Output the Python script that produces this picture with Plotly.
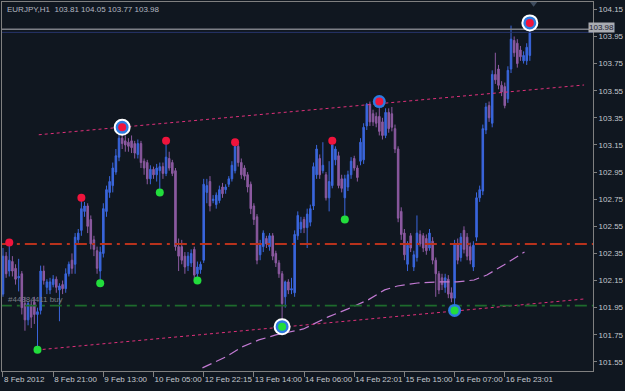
import plotly.graph_objects as go

# ---------------- data (EURJPY H1) ----------------
opens = [102.05,102.33,102.22,102.29,102.24,102.17,102.20,101.98,101.86,101.97,
         101.99,101.90,101.93,102.22,102.10,102.08,102.12,102.16,102.08,102.12,
         102.09,102.20,102.30,102.27,102.45,102.52,102.66,102.70,102.60,102.45,
         102.37,102.22,102.35,102.66,102.80,102.85,102.95,103.06,103.20,103.18,
         103.17,103.18,103.16,103.08,103.16,103.03,103.02,102.90,102.97,102.93,
         102.96,102.99,102.94,103.05,103.02,102.96,102.40,102.40,102.33,102.26,
         102.28,102.38,102.20,102.23,102.30,102.80,102.88,102.74,102.71,102.74,
         102.84,102.82,102.86,102.90,102.96,103.14,103.02,102.98,102.93,102.86,
         102.70,102.62,102.34,102.40,102.46,102.40,102.48,102.35,102.28,102.20,
         102.03,102.14,102.08,102.06,102.48,102.53,102.60,102.54,102.58,102.70,
         102.93,103.05,102.96,102.93,102.76,102.85,103.04,103.07,102.90,102.76,
         102.84,102.93,103.05,102.98,103.03,103.04,103.29,103.45,103.38,103.36,
         103.36,103.32,103.22,103.39,103.38,103.27,103.12,102.66,102.50,102.27,
         102.48,102.25,102.32,102.49,102.48,102.46,102.39,102.44,102.30,102.20,
         102.17,102.10,102.16,102.06,102.02,102.42,102.32,102.52,102.47,102.40,
         102.25,102.47,102.76,102.81,103.26,103.44,103.31,103.67,103.71,103.59,
         103.58,103.49,103.71,103.92,103.90,103.85,103.77,103.77,103.81]
highs = [102.39,102.36,102.41,102.33,102.27,102.31,102.22,102.03,102.00,102.00,
         102.03,101.95,102.26,102.26,102.16,102.17,102.19,102.18,102.13,102.15,
         102.24,102.29,102.35,102.50,102.53,102.75,102.73,102.72,102.63,102.48,
         102.40,102.40,102.72,102.85,102.92,103.02,103.12,103.25,103.27,103.22,
         103.20,103.22,103.18,103.19,103.18,103.05,103.04,103.00,102.99,103.01,
         103.02,103.02,103.17,103.10,103.04,102.98,102.46,102.45,102.36,102.36,
         102.38,102.40,102.29,102.29,102.90,102.90,102.92,102.78,102.80,102.85,
         102.87,102.86,102.92,103.03,103.17,103.16,103.05,103.00,102.95,102.88,
         102.72,102.64,102.45,102.52,102.48,102.50,102.50,102.37,102.30,102.22,
         102.15,102.16,102.17,102.52,102.66,102.62,102.62,102.68,102.71,103.02,
         103.15,103.08,103.17,102.95,103.03,103.17,103.14,103.10,102.93,102.93,
         102.96,103.06,103.07,103.00,103.20,103.31,103.46,103.47,103.41,103.39,
         103.47,103.35,103.42,103.42,103.43,103.30,103.14,102.69,102.53,102.44,
         102.50,102.37,102.63,102.52,102.50,102.49,102.53,102.47,102.32,102.22,
         102.20,102.20,102.19,102.10,102.45,102.46,102.50,102.55,102.50,102.43,
         102.44,102.80,102.85,103.30,103.46,103.47,103.70,103.83,103.74,103.62,
         103.61,103.73,104.03,103.95,103.93,103.88,103.84,103.90,104.05]
lows = [102.03,102.17,102.18,102.18,102.12,102.07,101.90,101.78,101.82,101.80,
        101.83,101.65,101.90,102.12,102.05,102.05,102.10,102.06,101.85,102.05,
        102.06,102.18,102.20,102.20,102.42,102.48,102.62,102.50,102.38,102.33,
        102.20,102.14,102.32,102.62,102.76,102.80,102.93,103.03,103.12,103.10,
        103.10,103.09,103.05,103.05,102.98,102.93,102.86,102.86,102.90,102.88,
        102.81,102.90,102.92,102.96,102.92,102.37,102.22,102.27,102.20,102.22,
        102.25,102.16,102.15,102.20,102.28,102.72,102.66,102.72,102.68,102.72,
        102.76,102.79,102.84,102.88,102.94,102.99,102.90,102.89,102.80,102.64,
        102.56,102.27,102.30,102.36,102.39,102.37,102.30,102.25,102.17,101.83,
        101.95,102.05,102.05,102.03,102.45,102.50,102.50,102.39,102.55,102.67,
        102.90,102.90,102.94,102.74,102.66,102.83,103.00,102.83,102.80,102.61,
        102.81,102.90,102.96,102.88,103.00,103.01,103.26,103.29,103.29,103.28,
        103.22,103.19,103.20,103.24,103.25,103.09,102.58,102.45,102.30,102.22,
        102.36,102.22,102.29,102.40,102.36,102.34,102.37,102.27,102.03,102.05,
        102.08,102.06,102.02,101.99,101.93,102.27,102.29,102.35,102.30,102.27,
        102.22,102.44,102.73,102.78,103.23,103.32,103.28,103.60,103.56,103.51,
        103.42,103.46,103.68,103.80,103.72,103.77,103.75,103.74,103.77]
closes = [102.33,102.20,102.30,102.22,102.16,102.18,101.95,101.86,101.98,101.88,
          101.90,101.92,102.22,102.15,102.14,102.14,102.16,102.10,102.11,102.09,
          102.20,102.27,102.24,102.47,102.50,102.68,102.70,102.55,102.42,102.38,
          102.24,102.36,102.68,102.82,102.88,102.98,103.07,103.20,103.16,103.15,
          103.14,103.13,103.09,103.16,103.02,102.98,102.90,102.97,102.93,102.98,
          102.99,102.94,103.06,102.98,102.94,102.40,102.33,102.30,102.25,102.33,
          102.35,102.19,102.25,102.27,102.86,102.85,102.70,102.75,102.78,102.82,
          102.79,102.84,102.90,103.00,103.14,103.02,102.93,102.92,102.84,102.68,
          102.60,102.30,102.42,102.50,102.42,102.48,102.33,102.28,102.20,101.98,
          102.14,102.08,102.09,102.49,102.63,102.58,102.54,102.64,102.68,102.99,
          103.12,102.93,103.00,102.76,102.88,103.15,103.12,102.85,102.83,102.90,
          102.93,103.03,102.98,102.91,103.17,103.28,103.45,103.32,103.32,103.31,
          103.25,103.22,103.39,103.27,103.28,103.12,102.61,102.49,102.34,102.41,
          102.39,102.34,102.50,102.42,102.39,102.37,102.50,102.30,102.20,102.08,
          102.12,102.17,102.05,102.02,102.42,102.30,102.47,102.38,102.33,102.30,
          102.41,102.76,102.82,103.27,103.43,103.35,103.67,103.63,103.59,103.54,
          103.44,103.70,103.93,103.83,103.75,103.80,103.81,103.87,103.98]
bars = list(range(len(opens)))

tick_bars = [0, 16, 32, 48, 64, 80, 96, 112, 128, 144, 160]
tick_labels = ["8 Feb 2012", "8 Feb 21:00", "9 Feb 13:00", "10 Feb 05:00",
               "12 Feb 22:15", "13 Feb 14:00", "14 Feb 06:00", "14 Feb 22:01",
               "15 Feb 15:00", "16 Feb 07:00", "16 Feb 23:01"]
price_ticks = [101.55, 101.75, 101.95, 102.15, 102.35, 102.55, 102.75,
               102.95, 103.15, 103.35, 103.55, 103.75, 103.95, 104.15]

# swing points
high_bars = [2, 25, 52, 74, 105]
high_prices = [102.43, 102.76, 103.18, 103.17, 103.18]
ring_high_bars = [38, 168]
ring_high_prices = [103.28, 104.05]
blue_high_bars = [120]
blue_high_prices = [103.47]
low_bars = [11, 31, 50, 62, 109]
low_prices = [101.64, 102.13, 102.80, 102.15, 102.60]
ring_low_bars = [89]
ring_low_prices = [101.81]
blue_low_bars = [144]
blue_low_prices = [101.93]

# channel lines
upper_bars = [11.4, 185.3]
upper_prices = [103.225, 103.592]
lower_bars = [10.75, 185.3]
lower_prices = [101.638, 102.014]

# moving average (dashed)
ma_bars = [63.6, 71.1, 76.2, 81.6, 87.0, 91.1, 95.8, 103.7, 110.0, 116.4, 121.7,
           125.8, 132.2, 138.5, 144.8, 150.2, 154.3, 159.7, 166.3]
ma_prices = [101.506, 101.587, 101.660, 101.712, 101.749, 101.771, 101.793, 101.882,
             101.941, 102.007, 102.081, 102.110, 102.132, 102.140, 102.140, 102.154,
             102.191, 102.265, 102.361]

red_level = 102.42
green_level = 101.965
ask_level = 104.003
bid_level = 103.98
title_text = "EURJPY,H1  103.81 104.05 103.77 103.98"
order_text = "#44384411 buy"
order_bar = 1
order_price = 102.01
bid_label = "103.98"

# ---------------- style ----------------
BG = "#101720"
UP = "#3a66dc"
DOWN = "#8c5aa0"
RED = "#f0143c"
GREEN = "#22dd3c"
BLUE = "#2d7be0"
AXIS = "#808080"
TXT = "#c4c8ce"
FONT = "Liberation Sans"

fig = go.Figure()

# channel lines & MA
fig.add_trace(go.Scatter(x=upper_bars, y=upper_prices, mode="lines",
                         line=dict(color="#e0307a", width=1, dash="3px,3px"), hoverinfo="skip"))
fig.add_trace(go.Scatter(x=lower_bars, y=lower_prices, mode="lines",
                         line=dict(color="#e0307a", width=1, dash="3px,3px"), hoverinfo="skip"))
fig.add_trace(go.Scatter(x=ma_bars, y=ma_prices, mode="lines",
                         line=dict(color="#c27ad2", width=1.2, dash="10px,5px"), hoverinfo="skip"))

# horizontal level lines
fig.add_trace(go.Scatter(x=[-1, 190], y=[red_level, red_level], mode="lines",
                         line=dict(color="#b8321c", width=2, dash="12px,5px,3px,5px"), hoverinfo="skip"))
fig.add_trace(go.Scatter(x=[-1, 190], y=[green_level, green_level], mode="lines",
                         line=dict(color="#1d6b2c", width=1.6, dash="12px,5px,3px,5px"), hoverinfo="skip"))
fig.add_trace(go.Scatter(x=[-1, 190], y=[ask_level, ask_level], mode="lines",
                         line=dict(color="#7c7f86", width=1.5), hoverinfo="skip"))
fig.add_trace(go.Scatter(x=[-1, 190], y=[bid_level, bid_level], mode="lines",
                         line=dict(color="#26356a", width=1), hoverinfo="skip"))

# candles
fig.add_trace(go.Candlestick(
    x=bars, open=opens, high=highs, low=lows, close=closes,
    increasing=dict(line=dict(color=UP, width=1), fillcolor=UP),
    decreasing=dict(line=dict(color=DOWN, width=1), fillcolor=DOWN),
    whiskerwidth=0, hoverinfo="skip"))

# swing markers
fig.add_trace(go.Scatter(x=high_bars, y=high_prices, mode="markers",
                         marker=dict(color=RED, size=8), hoverinfo="skip"))
fig.add_trace(go.Scatter(x=low_bars, y=low_prices, mode="markers",
                         marker=dict(color=GREEN, size=8), hoverinfo="skip"))
for bx, py, c in [(ring_high_bars, ring_high_prices, RED), (ring_low_bars, ring_low_prices, GREEN)]:
    fig.add_trace(go.Scatter(x=bx, y=py, mode="markers", cliponaxis=False,
                             marker=dict(color=BLUE, size=15, line=dict(color="white", width=2)),
                             hoverinfo="skip"))
    fig.add_trace(go.Scatter(x=bx, y=py, mode="markers", cliponaxis=False,
                             marker=dict(color=c, size=8), hoverinfo="skip"))
for bx, py, c in [(blue_high_bars, blue_high_prices, RED), (blue_low_bars, blue_low_prices, GREEN)]:
    fig.add_trace(go.Scatter(x=bx, y=py, mode="markers",
                             marker=dict(color=BLUE, size=13), hoverinfo="skip"))
    fig.add_trace(go.Scatter(x=bx, y=py, mode="markers",
                             marker=dict(color=c, size=8), hoverinfo="skip"))

# chart-shift marker at top
fig.add_trace(go.Scatter(x=[169.2], y=[104.195], mode="markers", cliponaxis=False,
                         marker=dict(symbol="triangle-down", color="#3e4c5e", size=7),
                         hoverinfo="skip"))

fig.add_annotation(text=title_text, xref="paper", yref="paper", x=0, y=1,
                   xanchor="left", yanchor="top", xshift=3, yshift=-1, showarrow=False,
                   font=dict(family=FONT, size=8, color="#b4b8c0"))
fig.add_annotation(text=order_text, x=order_bar, y=order_price, xanchor="left",
                   yanchor="middle", showarrow=False,
                   font=dict(family=FONT, size=8, color="#7a7e86"))
fig.add_annotation(text=bid_label, xref="paper", x=1, y=ask_level, xanchor="left",
                   yanchor="middle", xshift=-5, yshift=2, showarrow=False, bgcolor="#a9acb2",
                   borderpad=0, font=dict(family=FONT, size=8, color="#1a2030"))

fig.update_layout(
    width=625, height=391, autosize=False,
    margin=dict(l=1, r=28, t=2, b=20),
    paper_bgcolor=BG, plot_bgcolor=BG, showlegend=False,
    xaxis=dict(range=[-0.316, 188.14], rangeslider=dict(visible=False),
               tickvals=tick_bars, ticktext=tick_labels, ticks="outside", ticklen=5,
               tickcolor=AXIS, ticklabelposition="outside right", tickangle=0,
               tickfont=dict(family=FONT, size=8, color=TXT),
               showgrid=False, zeroline=False, showline=True, linecolor=AXIS,
               linewidth=1, mirror=True),
    yaxis=dict(range=[101.483, 104.204], side="right", tickvals=price_ticks,
               ticktext=[f"{v:.2f}" for v in price_ticks], ticks="outside", ticklen=3,
               tickcolor=AXIS, tickfont=dict(family=FONT, size=8, color=TXT),
               showgrid=False, zeroline=False, showline=True, linecolor=AXIS,
               linewidth=1, mirror=True),
)

fig.write_html("out.html")
